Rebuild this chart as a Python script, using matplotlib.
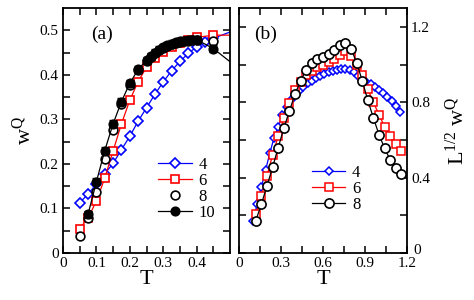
import matplotlib
matplotlib.use("Agg")
import matplotlib.pyplot as plt
import matplotlib.transforms as mtransforms
import numpy as np

plt.rcParams['font.family'] = ['Liberation Serif', 'DejaVu Serif']
plt.rcParams['mathtext.fontset'] = 'custom'
plt.rcParams['mathtext.rm'] = 'Liberation Serif'
plt.rcParams['mathtext.it'] = 'Liberation Serif:italic'

# ---------- panel (a) data ----------
Ta4 = [0.05, 0.075, 0.1, 0.125, 0.15, 0.175, 0.2, 0.225, 0.25, 0.275, 0.3, 0.325,
       0.35, 0.375, 0.4, 0.425, 0.45, 0.55]
wa4 = [0.113, 0.132, 0.155, 0.178, 0.201, 0.232, 0.262, 0.296, 0.326, 0.356, 0.384,
       0.409, 0.43, 0.448, 0.463, 0.474, 0.482, 0.51]

Ta6 = [0.05, 0.075, 0.1, 0.125, 0.15, 0.175, 0.2, 0.225, 0.25, 0.275, 0.3, 0.325,
       0.35, 0.375, 0.4, 0.45, 0.55]
wa6 = [0.055, 0.078, 0.117, 0.168, 0.229, 0.29, 0.343, 0.385, 0.417, 0.437, 0.452,
       0.463, 0.472, 0.479, 0.484, 0.489, 0.489]

Ta8 = [0.05, 0.075, 0.1, 0.125, 0.15, 0.175, 0.2, 0.225, 0.25, 0.2625, 0.275, 0.2875,
       0.3, 0.3125, 0.325, 0.3375, 0.35, 0.3625, 0.375, 0.3875, 0.4, 0.45]
wa8 = [0.039, 0.078, 0.138, 0.21, 0.277, 0.335, 0.378, 0.41, 0.431, 0.44, 0.448, 0.455,
       0.46, 0.465, 0.469, 0.472, 0.474, 0.476, 0.477, 0.478, 0.478, 0.476]

Ta10 = [0.075, 0.1, 0.125, 0.15, 0.175, 0.2, 0.225, 0.25, 0.2625, 0.275, 0.2875, 0.3,
        0.3125, 0.325, 0.3375, 0.35, 0.3625, 0.375, 0.3875, 0.4, 0.45, 0.55]
wa10 = [0.087, 0.16, 0.23, 0.29, 0.34, 0.381, 0.412, 0.433, 0.442, 0.45, 0.456, 0.462,
        0.466, 0.47, 0.473, 0.475, 0.477, 0.478, 0.479, 0.479, 0.459, 0.40]
ea10 = 0.008

# ---------- panel (b) data ----------
Tb4 = [0.10, 0.13, 0.16, 0.19, 0.22, 0.25, 0.28, 0.31, 0.34, 0.37, 0.40, 0.43, 0.46,
       0.49, 0.52, 0.55, 0.58, 0.61, 0.64, 0.67, 0.70, 0.73, 0.76, 0.79, 0.82, 0.85,
       0.88, 0.91, 0.94, 0.97, 1.00, 1.03, 1.06, 1.09, 1.12, 1.15]
sb4 = [0.17, 0.26, 0.35, 0.44, 0.53, 0.61, 0.67, 0.73, 0.775, 0.81, 0.84, 0.86, 0.88,
       0.90, 0.915, 0.93, 0.94, 0.95, 0.96, 0.965, 0.972, 0.975, 0.977, 0.972, 0.958,
       0.94, 0.922, 0.91, 0.898, 0.882, 0.865, 0.848, 0.828, 0.805, 0.78, 0.75]

Tb6 = [0.12, 0.16, 0.20, 0.24, 0.28, 0.32, 0.36, 0.40, 0.44, 0.48, 0.52, 0.56, 0.60,
       0.64, 0.68, 0.72, 0.76, 0.80, 0.84, 0.88, 0.92, 0.96, 1.00, 1.04, 1.08, 1.12, 1.16]
sb6 = [0.207, 0.304, 0.41, 0.52, 0.621, 0.715, 0.795, 0.865, 0.91, 0.945, 0.965, 0.985,
       1.0, 1.015, 1.03, 1.05, 1.07, 1.045, 1.0, 0.945, 0.87, 0.8, 0.733, 0.671, 0.621,
       0.579, 0.542]

Tb8 = [0.12, 0.16, 0.20, 0.24, 0.28, 0.32, 0.36, 0.40, 0.44, 0.48, 0.52, 0.56, 0.60,
       0.64, 0.68, 0.72, 0.76, 0.80, 0.84, 0.88, 0.92, 0.96, 1.00, 1.04, 1.08, 1.12, 1.16]
sb8 = [0.171, 0.26, 0.356, 0.455, 0.559, 0.662, 0.753, 0.844, 0.913, 0.972, 1.01, 1.03,
       1.04, 1.055, 1.078, 1.105, 1.115, 1.085, 1.01, 0.915, 0.81, 0.717, 0.628, 0.556,
       0.494, 0.453, 0.418]

fig = plt.figure(figsize=(4.74, 3.0), dpi=100)
axa = fig.add_axes([63/474, 47/300, 167/474, 245/300])
axb = fig.add_axes([239/474, 47/300, 168/474, 245/300])

FS_TICK = 11
FS_LAB = 16

def style(ax):
    for s in ax.spines.values():
        s.set_linewidth(1.3)
    ax.tick_params(which='both', direction='in', top=True, right=True,
                   width=1.1, labelsize=FS_TICK, pad=3)
    ax.tick_params(which='major', length=5)
    ax.tick_params(which='minor', length=5)

# panel (a)
axa.plot(Ta4, wa4, '-', color='blue', lw=0.9, marker='D', ms=5.2, mfc='white',
         mec='blue', mew=1.2, label='4')
axa.plot(Ta6, wa6, '-', color='red', lw=0.9, marker='s', ms=6.3, mfc='white',
         mec='red', mew=1.2, label='6')
axa.errorbar(Ta8, wa8, yerr=0.006, fmt='none', ecolor='black', elinewidth=0.8,
             capsize=2.5)
axa.plot(Ta8, wa8, 'o', ms=6.3, mfc='white', mec='black', mew=1.2, label='8')
axa.errorbar(Ta10, wa10, yerr=ea10, fmt='none', ecolor='black', elinewidth=0.8,
             capsize=3)
axa.plot(Ta10, wa10, '-o', color='black', lw=0.9, ms=6.3, mfc='black', mec='black',
         label='10')
axa.set_xlim(0, 0.5)
axa.set_ylim(0, 0.55)
axa.set_xticks([0, 0.1, 0.2, 0.3, 0.4])
axa.set_xticklabels(['0', '0.1', '0.2', '0.3', '0.4'])
axa.set_xticks(np.arange(0.05, 0.5, 0.1), minor=True)
axa.set_yticks([0, 0.1, 0.2, 0.3, 0.4, 0.5])
axa.set_yticklabels(['0', '0.1', '0.2', '0.3', '0.4', '0.5'])
axa.set_yticks([0.05, 0.15, 0.25, 0.35, 0.45], minor=True)
style(axa)
axa.set_xlabel('T', fontsize=FS_LAB, labelpad=0)
axa.set_ylabel(r'w$^{\rm Q}$', fontsize=FS_LAB, labelpad=3)
axa.text(0.17, 0.875, '(a)', transform=axa.transAxes, fontsize=14)
axa.legend(loc='lower left', bbox_to_anchor=(0.50, 0.085), frameon=False,
           fontsize=FS_TICK + 1, handlelength=2.0, handletextpad=0.4,
           labelspacing=0.0, borderpad=0.2)

# panel (b)
axb.plot(Tb4, sb4, '-', color='blue', lw=0.9, marker='D', ms=3.6, mfc='white',
         mec='blue', mew=1.1, label='4')
axb.plot(Tb6, sb6, '-', color='red', lw=0.9, marker='s', ms=5.2, mfc='white',
         mec='red', mew=1.1, label='6')
axb.plot(Tb8, sb8, '-', color='black', lw=0.9, marker='o', ms=6.6, mfc='white',
         mec='black', mew=1.2, label='8')
axb.set_xlim(0, 1.2)
axb.set_ylim(0, 1.3)
axb.set_xticks([0, 0.3, 0.6, 0.9, 1.2])
axb.set_xticklabels(['0', '0.3', '0.6', '0.9', '1.2'])
axb.set_xticks([0.15, 0.45, 0.75, 1.05], minor=True)
axb.set_yticks([0, 0.4, 0.8, 1.2])
axb.set_yticklabels(['0', '0.4', '0.8', '1.2'])
axb.set_yticks([0.2, 0.6, 1.0], minor=True)
style(axb)
axb.tick_params(which='both', labelleft=False, labelright=True)
axb.yaxis.set_label_position('right')
axb.set_xlabel('T', fontsize=FS_LAB, labelpad=0)
axb.set_ylabel(r'L$^{1/2}$ w$^{\rm Q}$', fontsize=FS_LAB, labelpad=11)
axb.text(0.09, 0.875, '(b)', transform=axb.transAxes, fontsize=14)
axb.legend(loc='lower left', bbox_to_anchor=(0.365, 0.115), frameon=False,
           fontsize=FS_TICK + 1, handlelength=2.0, handletextpad=0.4,
           labelspacing=0.0, borderpad=0.2)

# nudge the right-hand "0" label up a little so it clears the "1.2" x label
offset = mtransforms.ScaledTranslation(0.02, 0.035, fig.dpi_scale_trans)
for t in axb.yaxis.get_major_ticks()[:1]:
    t.label2.set_transform(t.label2.get_transform() + offset)

fig.savefig('out.png', dpi=100)
